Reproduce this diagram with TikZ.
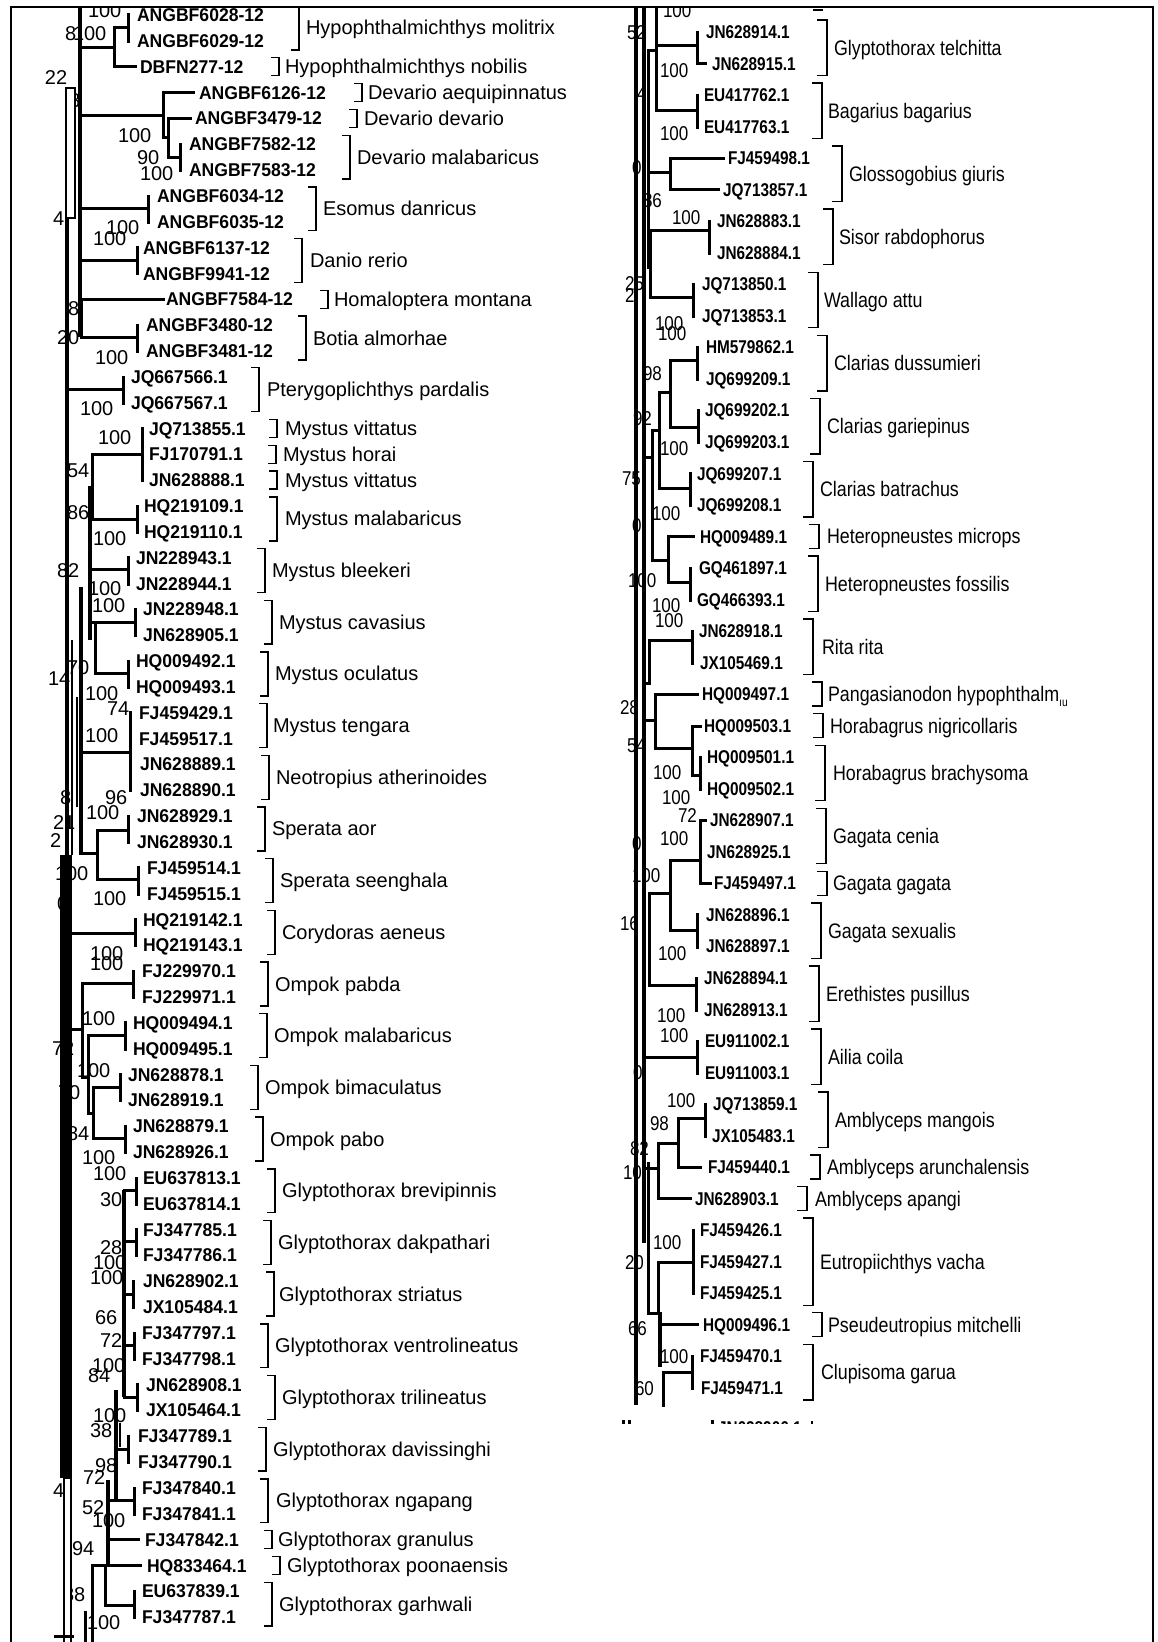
\documentclass[tikz,border=0pt]{standalone}
\usepackage{fontspec}
\newfontfamily\fL{Liberation Sans}
\newfontfamily\fLa[FakeStretch=0.95]{Liberation Sans}
\newfontfamily\fR[FakeStretch=0.85]{Liberation Sans}
\newfontfamily\fRa[FakeStretch=0.83]{Liberation Sans}
\newcommand\pgtail{\raisebox{-5pt}{\fontsize{12}{12}\selectfont ıu}}
\tikzset{
  br/.style={line width=3pt, line cap=rect},
  bk/.style={line width=4.5pt},
  tl/.style={line width=1.5pt},
  brk/.style={line width=1.4pt},
  accL/.style={inner sep=0pt, outer sep=0pt, anchor=base west, font=\fLa\bfseries\fontsize{18.5}{20}\selectfont},
  accR/.style={inner sep=0pt, outer sep=0pt, anchor=base west, font=\fRa\bfseries\fontsize{18.5}{20}\selectfont},
  spL/.style={inner sep=0pt, outer sep=0pt, anchor=base west, font=\fL\fontsize{20}{22}\selectfont},
  spR/.style={inner sep=0pt, outer sep=0pt, anchor=base west, font=\fR\fontsize{21}{23}\selectfont},
  bsL/.style={inner sep=0pt, outer sep=0pt, anchor=base west, font=\fL\fontsize{20}{22}\selectfont},
  bsR/.style={inner sep=0pt, outer sep=0pt, anchor=base west, font=\fR\fontsize{20}{22}\selectfont},
}
\begin{document}
\begin{tikzpicture}[x=1pt,y=-1pt]
\useasboundingbox (0,0) rectangle (1158,1642);
\fill[white] (0,0) rectangle (1158,1642);
\begin{scope}
\clip (12,8) rectangle (1152,1642);
% ---------- bootstrap values, left panel ----------
\foreach \x/\y/\t [count=\n] in {88/10/100, 65/33/8, 73/33/100, 45/77/22, 69/100/8, 118/135/100, 137/157/90, 140/173/100,
  53/218/4, 106/227/100, 93/238/100, 68/308/8, 57/337/20, 95/357/100, 80/408/100, 98/437/100, 67/470/54, 67/512/86,
  93/538/100, 57/570/82, 88/588/100, 92/605/100, 48/678/14, 67/667/70, 85/693/100, 107/708/74, 85/735/100, 60/797/8,
  105/797/96, 86/812/100, 53/822/21, 50/840/2, 55/873/100, 57/903/0, 93/898/100, 90/953/100, 90/963/100, 82/1018/100,
  77/1070/100, 52/1048/72, 58/1092/70, 67/1133/84, 82/1157/100, 93/1173/100, 100/1199/30, 100/1247/28, 93/1262/100,
  90/1277/100, 95/1317/66, 100/1340/72, 92/1365/100, 88/1375/84, 93/1415/100, 90/1430/38, 95/1465/98, 83/1477/72,
  53/1490/4, 82/1507/52, 92/1520/100, 72/1548/94, 63/1594/88, 87/1622/100}
  {\node[bsL] (bL\n) at (\x,\y+7) {\t};}
% ---------- bootstrap values, right panel ----------
\foreach \x/\y/\t [count=\n] in {663/10/100, 627/32/52, 660/70/100, 637/93/4, 660/133/100, 632/167/0, 643/200/86,
  672/217/100, 625/283/25, 625/295/2, 655/323/100, 658/333/100, 643/373/98, 633/418/92, 660/448/100, 622/478/75,
  652/513/100, 632/525/0, 628/580/100, 652/605/100, 655/620/100, 620/707/28, 627/745/54, 653/772/100, 662/797/100,
  678/815/72, 660/838/100, 632/843/0, 632/875/100, 620/923/16, 658/953/100, 657/1015/100, 660/1035/100, 633/1072/0,
  667/1100/100, 650/1123/98, 630/1148/82, 623/1172/10, 653/1242/100, 625/1262/20, 628/1328/66, 660/1356/100, 635/1388/60}
  {\node[bsR] (bR\n) at (\x,\y+7) {\t};}
% ---------- left tree ----------
\draw[bk] (80,7) -- (80,337);
\draw[tl, fill=white] (66,88) rectangle (75,218);
\draw[bk] (67,218) -- (67,855);
\draw[tl] (72,640) -- (72,855);
\fill (60,855) rectangle (72,1478);
\draw[tl, fill=white] (64,1478) rectangle (71,1650);
\draw[br] (80,47) -- (114,47);
\draw[br] (128,27) -- (114,27) -- (114,66) -- (135,66);
\draw[br] (128,14) -- (128,41);
\draw[br] (80,115) -- (163,115);
\draw[br] (193,92) -- (163,92) -- (163,137) -- (168,137);
\draw[br] (190,118) -- (168,118) -- (168,157) -- (180,157);
\draw[br] (180,144) -- (180,170);
\draw[br] (80,208) -- (148,208); \draw[br] (148,196) -- (148,222);
\draw[br] (80,260) -- (137,260); \draw[br] (137,247) -- (137,273);
\draw[br] (80,299) -- (163,299);
\draw[br] (81,300) -- (81,337) -- (137,337); \draw[br] (137,325) -- (137,351);
\draw[br] (67,389) -- (123,389); \draw[br] (123,377) -- (123,403);
\draw[br] (92,454) -- (142,454); \draw[br] (142,428) -- (142,480);
\draw[br] (92,454) -- (92,519) -- (137,519); \draw[br] (137,506) -- (137,532);
\draw[bk] (90,486) -- (90,640);
\draw[br] (90,569) -- (128,569); \draw[br] (128,557) -- (128,584);
\draw[bk] (81,587) -- (81,855);
\draw[br] (90,622) -- (135,622); \draw[br] (135,609) -- (135,635);
\draw[br] (95,622) -- (95,673) -- (128,673); \draw[br] (128,661) -- (128,687);
\draw[tl] (77,697) -- (77,807);
\draw[br] (81,752) -- (130,752); \draw[br] (130,712) -- (130,790);
\draw[br] (81,853) -- (97,853);
\draw[br] (128,830) -- (97,830) -- (97,879) -- (138,879);
\draw[br] (128,816) -- (128,842); \draw[br] (138,867) -- (138,894);
\draw[br] (72,933) -- (135,933); \draw[br] (135,919) -- (135,945);
\draw[br] (72,1029) -- (82,1029);
\draw[br] (133,983) -- (82,983) -- (82,1077) -- (88,1077);
\draw[br] (133,971) -- (133,997);
\draw[br] (125,1035) -- (88,1035) -- (88,1113) -- (93,1113);
\draw[br] (125,1022) -- (125,1049);
\draw[br] (120,1087) -- (93,1087) -- (93,1138) -- (125,1138);
\draw[br] (120,1074) -- (120,1100); \draw[br] (125,1126) -- (125,1152);
\draw[bk] (124,1190) -- (124,1397);
\draw[bk] (116,1390) -- (116,1500);
\draw[bk] (108,1480) -- (108,1565);
\draw[br] (124,1190) -- (136,1190); \draw[br] (136,1178) -- (136,1204);
\draw[br] (124,1241) -- (136,1241); \draw[br] (136,1229) -- (136,1255);
\draw[br] (124,1294) -- (133,1294); \draw[br] (133,1281) -- (133,1307);
\draw[br] (124,1345) -- (134,1345); \draw[br] (134,1333) -- (134,1359);
\draw[br] (124,1397) -- (137,1397); \draw[br] (137,1384) -- (137,1410);
\draw[tl] (120,1423) -- (120,1447);
\draw[br] (116,1449) -- (128,1449); \draw[br] (128,1436) -- (128,1462);
\draw[br] (108,1500) -- (134,1500); \draw[br] (134,1488) -- (134,1514);
\draw[br] (108,1539) -- (138,1539);
\draw[br] (92,1650) -- (92,1565) -- (140,1565);
\draw[br] (105,1565) -- (105,1605) -- (134,1605); \draw[br] (134,1591) -- (134,1617);
\draw[br] (85,1612) -- (85,1650);
\draw[br] (55,1636) -- (72,1636);
% ---------- right tree ----------
\draw[bk] (636,7) -- (636,1405);
\draw[bk] (644,7) -- (644,1243);
\draw[br] (656,7) -- (656,110);
\draw[br] (656,45) -- (697,45); \draw[br] (697,32) -- (697,63) -- (705,63);
\draw[br] (656,110) -- (697,110); \draw[br] (697,95) -- (697,127);
\draw[br] (656,50) -- (648,50) -- (648,267);
\draw[br] (648,172) -- (670,172);
\draw[br] (723,158) -- (670,158) -- (670,189) -- (718,189);
\draw[br] (709,230) -- (650,230) -- (650,297) -- (693,297);
\draw[br] (709,221) -- (709,253); \draw[br] (693,284) -- (693,316);
\draw[br] (697,360) -- (670,360) -- (670,427) -- (698,427);
\draw[br] (697,347) -- (697,379); \draw[br] (698,410) -- (698,442);
\draw[br] (670,392) -- (659,392) -- (659,488) -- (690,488); \draw[br] (690,473) -- (690,505);
\draw[br] (659,430) -- (652,430) -- (652,560) -- (668,560);
\draw[br] (644,457) -- (652,457);
\draw[br] (693,536) -- (668,536) -- (668,582) -- (690,582); \draw[br] (690,568) -- (690,600);
\draw[br] (644,683) -- (649,683) -- (649,640) -- (692,640); \draw[br] (692,631) -- (692,663);
\draw[br] (697,694) -- (655,694) -- (655,748) -- (692,748);
\draw[br] (644,720) -- (655,720);
\draw[br] (700,726) -- (692,726) -- (692,775) -- (700,775); \draw[br] (700,757) -- (700,789);
\draw[br] (705,820) -- (700,820) -- (700,883) -- (710,883);
\draw[br] (700,860) -- (670,860) -- (670,930) -- (697,930); \draw[br] (697,914) -- (697,947);
\draw[br] (670,893) -- (649,893) -- (649,985) -- (696,985); \draw[br] (696,978) -- (696,1010);
\draw[br] (644,1057) -- (697,1057); \draw[br] (697,1041) -- (697,1073);
\draw[br] (644,1168) -- (658,1168);
\draw[br] (690,1198) -- (658,1198) -- (658,1143) -- (678,1143);
\draw[br] (705,1118) -- (678,1118) -- (678,1167) -- (700,1167); \draw[br] (705,1104) -- (705,1136);
\draw[br] (648,1163) -- (648,1313) -- (660,1313);
\draw[br] (693,1262) -- (658,1262) -- (658,1313); \draw[br] (693,1230) -- (693,1293);
\draw[bk] (660,1313) -- (660,1367);
\draw[br] (660,1324) -- (697,1324);
\draw[br] (663,1405) -- (663,1372) -- (692,1372); \draw[br] (692,1356) -- (692,1388);
\draw[brk] (813,10) -- (823,10);
% ---------- left accession labels ----------
\foreach \i/\x/\t in {0/137/ANGBF6028-12, 1/137/ANGBF6029-12, 2/140/DBFN277-12, 3/199/ANGBF6126-12, 4/195/ANGBF3479-12,
  5/189/ANGBF7582-12, 6/189/ANGBF7583-12, 7/157/ANGBF6034-12, 8/157/ANGBF6035-12, 9/143/ANGBF6137-12, 10/143/ANGBF9941-12,
  11/166/ANGBF7584-12, 12/146/ANGBF3480-12, 13/146/ANGBF3481-12, 14/131/JQ667566.1, 15/131/JQ667567.1, 16/149/JQ713855.1,
  17/149/FJ170791.1, 18/149/JN628888.1, 19/144/HQ219109.1, 20/144/HQ219110.1, 21/136/JN228943.1, 22/136/JN228944.1,
  23/143/JN228948.1, 24/143/JN628905.1, 25/136/HQ009492.1, 26/136/HQ009493.1, 27/139/FJ459429.1, 28/139/FJ459517.1,
  29/140/JN628889.1, 30/140/JN628890.1, 31/137/JN628929.1, 32/137/JN628930.1, 33/147/FJ459514.1, 34/147/FJ459515.1,
  35/143/HQ219142.1, 36/143/HQ219143.1, 37/142/FJ229970.1, 38/142/FJ229971.1, 39/133/HQ009494.1, 40/133/HQ009495.1,
  41/128/JN628878.1, 42/128/JN628919.1, 43/133/JN628879.1, 44/133/JN628926.1, 45/143/EU637813.1, 46/143/EU637814.1,
  47/143/FJ347785.1, 48/143/FJ347786.1, 49/143/JN628902.1, 50/143/JX105484.1, 51/142/FJ347797.1, 52/142/FJ347798.1,
  53/146/JN628908.1, 54/146/JX105464.1, 55/138/FJ347789.1, 56/138/FJ347790.1, 57/142/FJ347840.1, 58/142/FJ347841.1,
  59/145/FJ347842.1, 60/147/HQ833464.1, 61/142/EU637839.1, 62/142/FJ347787.1}
  {\pgfmathsetmacro\yy{15+25.84*\i+6.6}
   \node[accL] (aL\i) at (\x,\yy) {\t};}
% ---------- left species brackets ----------
\foreach \a/\b/\bx/\tx/\t in {0/1/299/306/Hypophthalmichthys molitrix, 2/2/279/285/Hypophthalmichthys nobilis,
  3/3/362/368/Devario aequipinnatus, 4/4/357/364/Devario devario, 5/6/350/357/Devario malabaricus,
  7/8/316/323/Esomus danricus, 9/10/302/310/Danio rerio, 11/11/328/334/Homaloptera montana, 12/13/306/313/Botia almorhae,
  14/15/259/267/Pterygoplichthys pardalis, 16/16/277/285/Mystus vittatus, 17/17/276/283/Mystus horai,
  18/18/277/285/Mystus vittatus, 19/20/277/285/Mystus malabaricus, 21/22/265/272/Mystus bleekeri,
  23/24/272/279/Mystus cavasius, 25/26/268/275/Mystus oculatus, 27/28/267/273/Mystus tengara,
  29/30/269/276/Neotropius atherinoides, 31/32/265/272/Sperata aor, 33/34/273/280/Sperata seenghala,
  35/36/275/282/Corydoras aeneus, 37/38/268/275/Ompok pabda, 39/40/267/274/Ompok malabaricus,
  41/42/258/265/Ompok bimaculatus, 43/44/263/270/Ompok pabo, 45/46/275/282/Glyptothorax brevipinnis,
  47/48/271/278/Glyptothorax dakpathari, 49/50/274/279/Glyptothorax striatus, 51/52/268/275/Glyptothorax ventrolineatus,
  53/54/275/282/Glyptothorax trilineatus, 55/56/266/273/Glyptothorax davissinghi, 57/58/268/276/Glyptothorax ngapang,
  59/59/272/278/Glyptothorax granulus, 60/60/280/287/Glyptothorax poonaensis, 61/62/272/279/Glyptothorax garhwali}
  {\pgfmathsetmacro\ya{15+25.84*\a-9}
   \pgfmathsetmacro\yb{15+25.84*\b+9}
   \pgfmathsetmacro\ym{(\ya+\yb)/2+7}
   \draw[brk] (\bx-8,\ya) -- (\bx,\ya) -- (\bx,\yb) -- (\bx-8,\yb);
   \node[spL] (sL\a) at (\tx,\ym) {\t};}
% ---------- right accession labels ----------
\foreach \i/\x/\t in {0/706/JN628914.1, 1/712/JN628915.1, 2/704/EU417762.1, 3/704/EU417763.1, 4/728/FJ459498.1,
  5/723/JQ713857.1, 6/717/JN628883.1, 7/717/JN628884.1, 8/702/JQ713850.1, 9/702/JQ713853.1, 10/706/HM579862.1,
  11/706/JQ699209.1, 12/705/JQ699202.1, 13/705/JQ699203.1, 14/697/JQ699207.1, 15/697/JQ699208.1, 16/700/HQ009489.1,
  17/699/GQ461897.1, 18/697/GQ466393.1, 19/699/JN628918.1, 20/700/JX105469.1, 21/702/HQ009497.1, 22/704/HQ009503.1,
  23/707/HQ009501.1, 24/707/HQ009502.1, 25/710/JN628907.1, 26/707/JN628925.1, 27/714/FJ459497.1, 28/706/JN628896.1,
  29/706/JN628897.1, 30/704/JN628894.1, 31/704/JN628913.1, 32/705/EU911002.1, 33/705/EU911003.1, 34/713/JQ713859.1,
  35/712/JX105483.1, 36/708/FJ459440.1, 37/695/JN628903.1, 38/700/FJ459426.1, 39/700/FJ459427.1, 40/700/FJ459425.1,
  41/703/HQ009496.1, 42/700/FJ459470.1, 43/701/FJ459471.1}
  {\pgfmathsetmacro\yy{32+31.53*\i+6.6}
   \node[accR] (aR\i) at (\x,\yy) {\t};}
% ---------- right species brackets ----------
\foreach \a/\b/\bx/\tx/\t in {0/1/827/834/Glyptothorax telchitta, 2/3/822/828/Bagarius bagarius,
  4/5/842/849/Glossogobius giuris, 6/7/833/839/Sisor rabdophorus, 8/9/818/824/Wallago attu,
  10/11/827/834/Clarias dussumieri, 12/13/820/827/Clarias gariepinus, 14/15/813/820/Clarias batrachus,
  16/16/819/827/Heteropneustes microps, 17/18/818/825/Heteropneustes fossilis, 19/20/813/822/Rita rita,
  21/21/822/828/Pangasianodon hypophthalm\pgtail, 22/22/823/830/Horabagrus nigricollaris,
  23/24/825/833/Horabagrus brachysoma, 25/26/826/833/Gagata cenia, 27/27/827/833/Gagata gagata,
  28/29/821/828/Gagata sexualis, 30/31/819/826/Erethistes pusillus, 32/33/821/828/Ailia coila,
  34/35/828/835/Amblyceps mangois, 36/36/820/827/Amblyceps arunchalensis, 37/37/807/815/Amblyceps apangi,
  38/40/813/820/Eutropiichthys vacha, 41/41/822/828/Pseudeutropius mitchelli, 42/43/813/821/Clupisoma garua}
  {\pgfmathsetmacro\ya{32+31.53*\a-12}
   \pgfmathsetmacro\yb{32+31.53*\b+12}
   \pgfmathsetmacro\ym{(\ya+\yb)/2+7.5}
   \draw[brk] (\bx-10,\ya) -- (\bx,\ya) -- (\bx,\yb) -- (\bx-10,\yb);
   \node[spR] (sR\a) at (\tx,\ym) {\t};}
\end{scope}
% ---------- cut-off row at the bottom of the right panel ----------
\begin{scope}
\clip (600,1420) rectangle (900,1423.5);
\node[accR] (cut) at (718,1434) {JN628906.1};
\draw[br] (623,1419) -- (623,1430);
\draw[br] (629,1419) -- (629,1430);
\draw[br] (712,1419) -- (712,1430);
\draw[brk] (812,1421) -- (812,1430);
\end{scope}
% ---------- frame ----------
\draw[line width=1.5pt] (11,1642) -- (11,7) -- (1153,7) -- (1153,1642);
\end{tikzpicture}
\end{document}
